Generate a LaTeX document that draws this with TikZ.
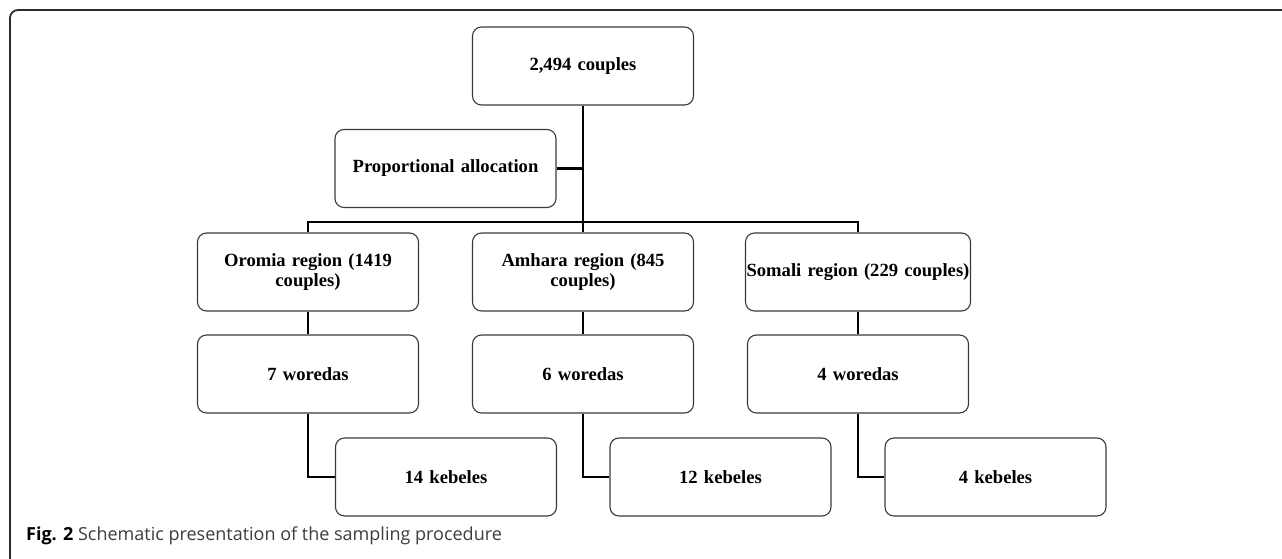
\documentclass[tikz,border=0pt]{standalone}
\usepackage{fontspec}
\setmainfont{Liberation Serif}
\newfontfamily\captionfont{Open Sans}
\usepackage{tikz}
\usetikzlibrary{positioning}
\definecolor{my_frame}{HTML}{2B2B2B}
\definecolor{my_border}{HTML}{3A3A3A}
\definecolor{my_caption}{HTML}{3C3C3C}

\begin{document}
\begin{tikzpicture}[
    x=1pt, y=-1pt,
    box/.style={draw=my_border, line width=1.1pt, rounded corners=9pt,
        minimum width=221pt, minimum height=78pt, text width=215pt,
        align=center, inner sep=0pt,
        font=\fontsize{18.6}{20.5}\selectfont\bfseries},
    link/.style={line width=2.8pt, black}
]
\useasboundingbox (0, 0) rectangle (1282, 559);

% ---------------------------------------------------------------
%  Rahmen und Bildunterschrift
% ---------------------------------------------------------------
\draw[my_frame, line width=1.8pt, rounded corners=8pt]
    (1282, 10) -- (10, 10) -- (10, 559);
\node[anchor=base west, inner sep=0pt, text=my_caption,
      font=\captionfont\fontsize{18}{21}\selectfont] (caption) at (26, 540)
    {\textbf{\color{black}Fig. 2} Schematic presentation of the sampling procedure};

% Kaesten
\node[box] (total) at (583, 66) {2,494 couples};
\node[box] (alloc) at (445.5, 168.5) {Proportional allocation};

\node[box] (oromia) at (308, 272) {Oromia region (1419\\couples)};
\node[box] (amhara) at (583, 272) {Amhara region (845\\couples)};
\node[box, text width=225pt] (somali) at (858, 272) {Somali region (229 couples)};

\node[box] (wor7) at (308, 374) {7 woredas};
\node[box] (wor6) at (583, 374) {6 woredas};
\node[box] (wor4) at (858, 374) {4 woredas};

\node[box] (keb14) at (446, 477) {14 kebeles};
\node[box] (keb12) at (720.5, 477) {12 kebeles};
\node[box] (keb4) at (995.5, 477) {4 kebeles};

% Verbindungen
\coordinate (fork) at (583, 222);
\draw[link] (total.south) -- (amhara.north);
\draw[link] (alloc.east) -- (alloc.east -| total.south);
\draw[link] (oromia.north) |- (fork) -| (somali.north);

\draw[link] (oromia) -- (wor7);
\draw[link] (amhara) -- (wor6);
\draw[link] (somali) -- (wor4);

\draw[link] (wor7.south) |- (keb14.west);
\draw[link] (wor6.south) |- (keb12.west);
\draw[link] (wor4.south) |- (keb4.west);

\end{tikzpicture}
\end{document}
